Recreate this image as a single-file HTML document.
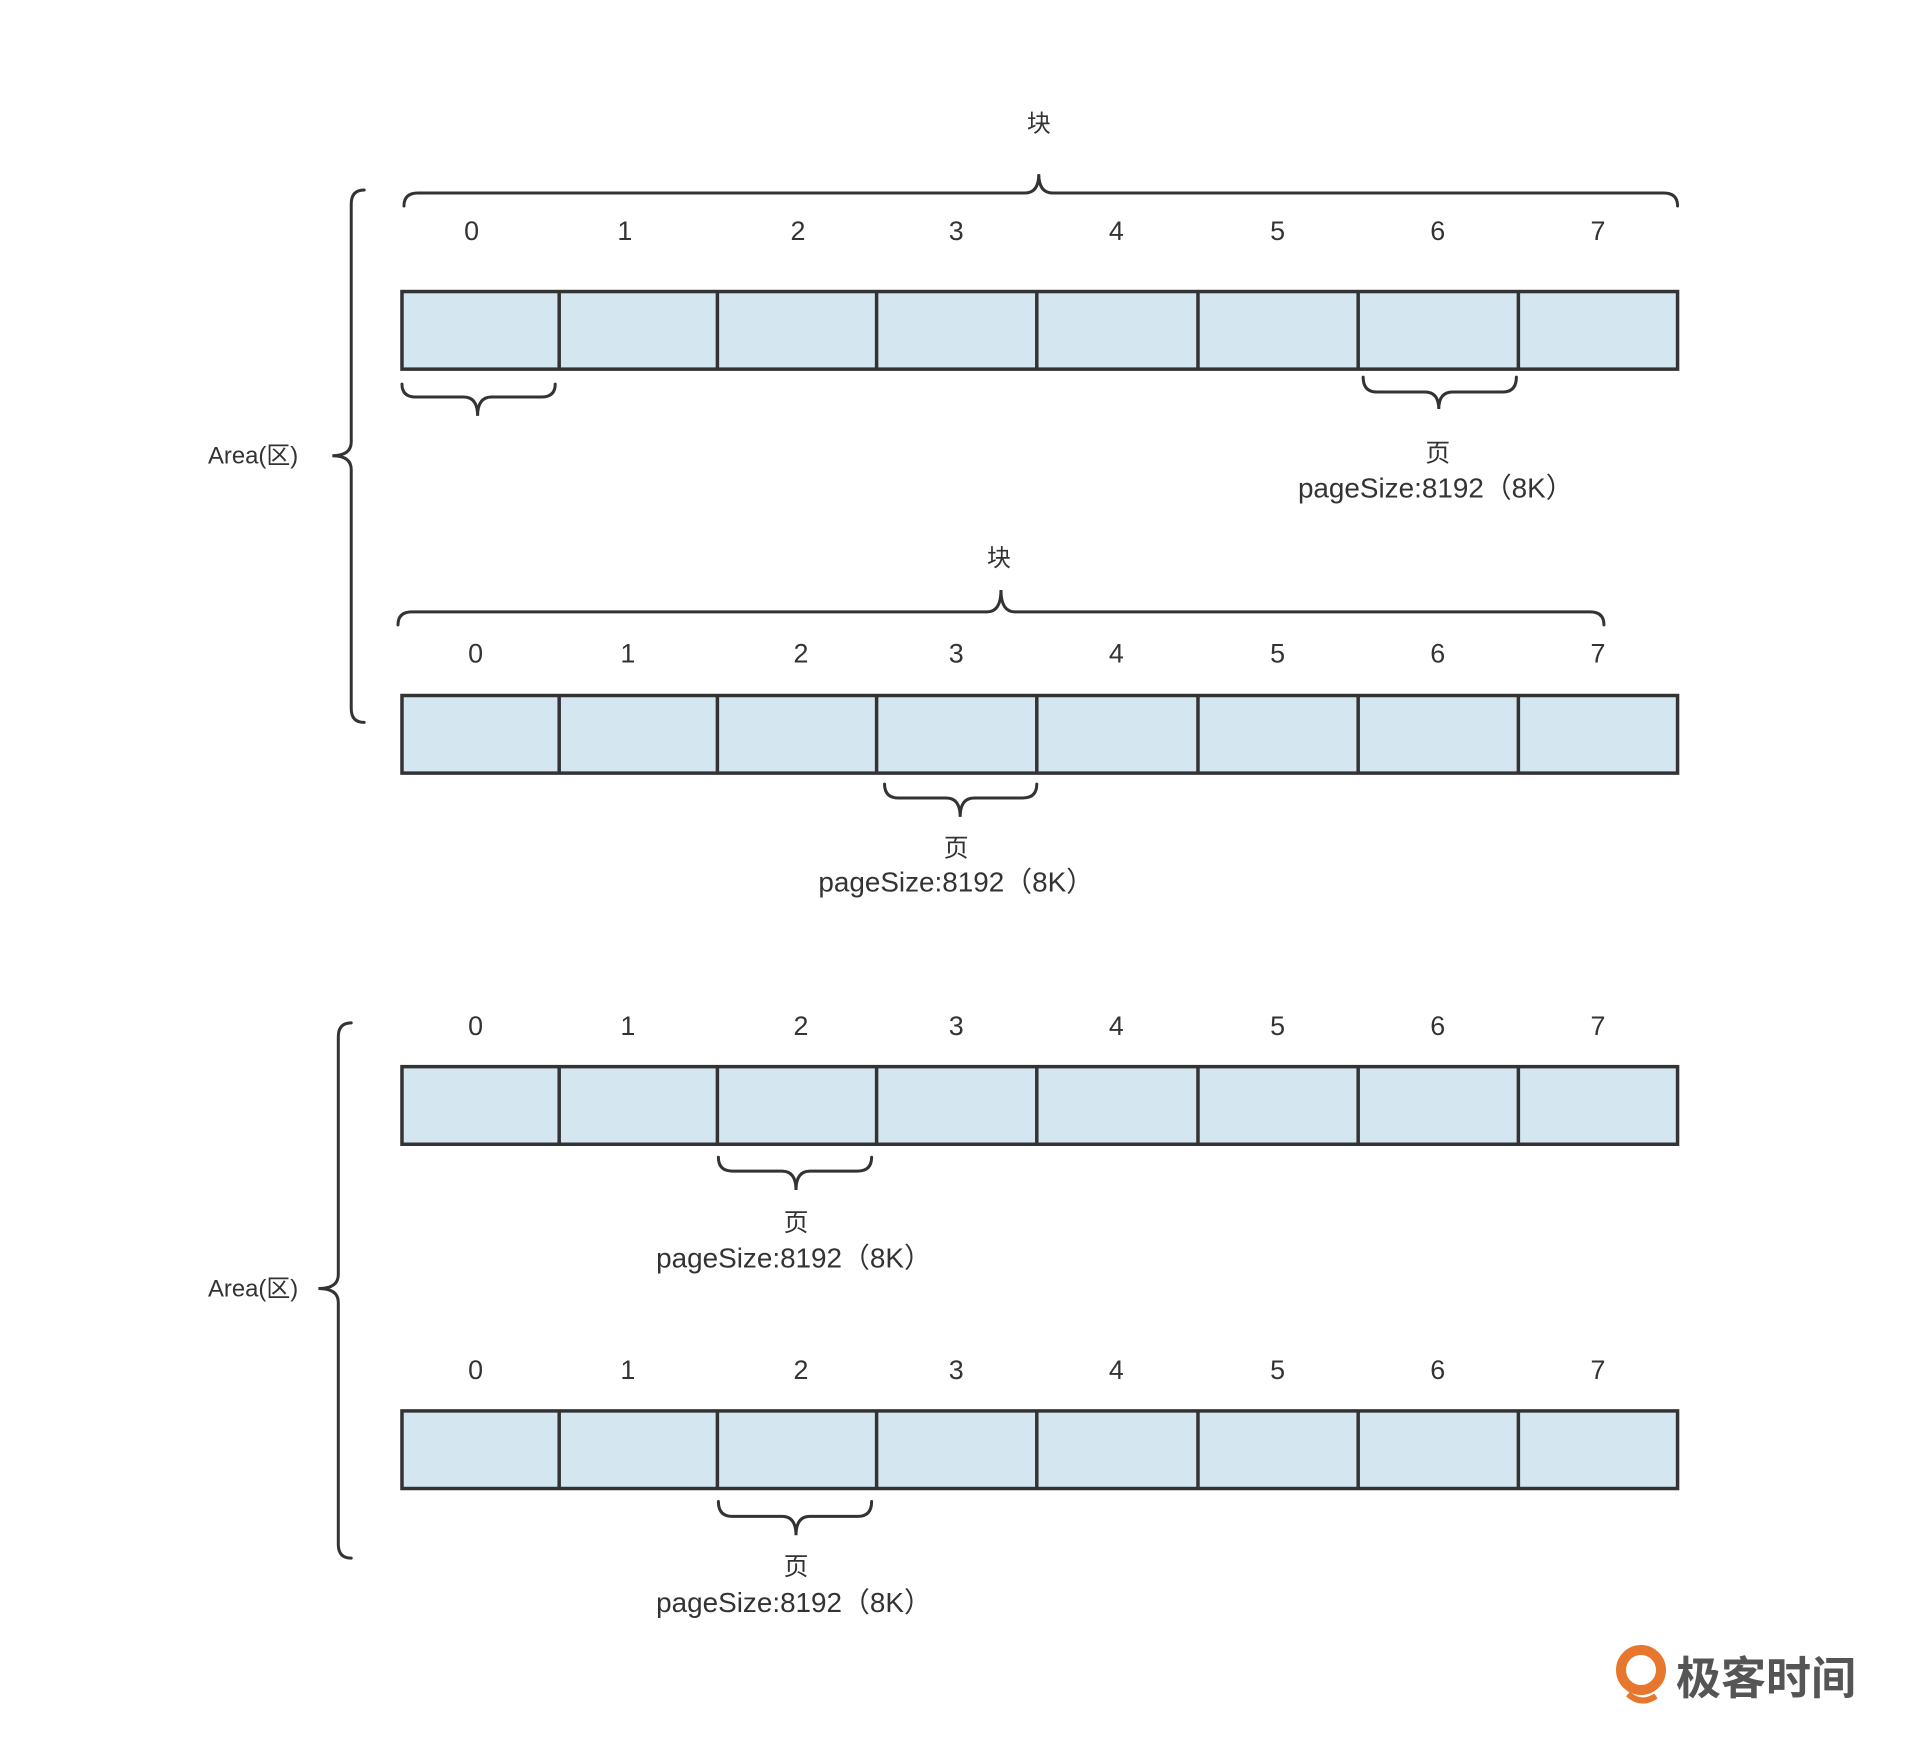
<!DOCTYPE html>
<html><head><meta charset="utf-8"><style>
html,body{margin:0;padding:0;background:#fff;}
svg{display:block}
text{font-family:"Liberation Sans","Noto Sans CJK SC",sans-serif;fill:#333}
</style></head><body>
<svg width="1920" height="1749" viewBox="0 0 1920 1749" xmlns="http://www.w3.org/2000/svg">
<defs>
<g id="bar">
<rect x="404" y="0" width="1282" height="78" fill="#d4e6ef" stroke="#333" stroke-width="3.5"/>
<path d="M562 0V78M721 0V78M881 0V78M1042 0V78M1204 0V78M1365 0V78M1526 0V78" stroke="#333" stroke-width="3.5"/>
</g>
<g id="nums" font-size="27" text-anchor="middle">
<text x="478" y="0">0</text><text x="631" y="0">1</text><text x="805" y="0">2</text><text x="961" y="0">3</text><text x="1122" y="0">4</text><text x="1284" y="0">5</text><text x="1445" y="0">6</text><text x="1606" y="0">7</text>
</g>
<g id="nums1" font-size="27" text-anchor="middle">
<text x="474" y="0">0</text><text x="628" y="0">1</text><text x="802" y="0">2</text><text x="961" y="0">3</text><text x="1122" y="0">4</text><text x="1284" y="0">5</text><text x="1445" y="0">6</text><text x="1606" y="0">7</text>
</g>
</defs>
<g transform="scale(0.995)">
<g fill="none" stroke="#333" stroke-width="3" stroke-linecap="round">
<path d="M406 207 Q406 194 420 194 L1030 194 Q1044 194 1044 175 Q1044 194 1058 194 L1672 194 Q1686 194 1686 207"/>
<path d="M400 628 Q400 615 414 615 L992 615 Q1006 615 1006 593 Q1006 615 1020 615 L1598 615 Q1612 615 1612 628"/>
<path d="M404 386 Q404 399 418 399 L466 399 Q480 399 480 418 Q480 399 494 399 L544 399 Q558 399 558 386"/>
<path d="M1370 379 Q1370 394 1384 394 L1432 394 Q1446 394 1446 411 Q1446 394 1460 394 L1510 394 Q1524 394 1524 379"/>
<path d="M889 788 Q889 802 903 802 L951 802 Q965 802 965 821 Q965 802 979 802 L1028 802 Q1042 802 1042 788"/>
<path d="M722 1163 Q722 1177 736 1177 L786 1177 Q800 1177 800 1196 Q800 1177 814 1177 L862 1177 Q876 1177 876 1163"/>
<path d="M722 1509 Q722 1524 736 1524 L786 1524 Q800 1524 800 1543 Q800 1524 814 1524 L862 1524 Q876 1524 876 1509"/>
<path d="M366 191 Q353 191 353 205 L353 444 Q353 458 334 458 Q353 458 353 472 L353 712 Q353 726 366 726"/>
<path d="M353 1028 Q340 1028 340 1042 L340 1281 Q340 1295 320 1295 Q340 1295 340 1309 L340 1552 Q340 1566 353 1566"/>
</g>
<use href="#bar" y="293"/>
<use href="#bar" y="699"/>
<use href="#bar" y="1072"/>
<use href="#bar" y="1418"/>
<use href="#nums1" y="241"/>
<use href="#nums" y="666"/>
<use href="#nums" y="1040"/>
<use href="#nums" y="1386"/>
<g text-anchor="middle">
<text x="1044" y="132" font-size="24">块</text>
<text x="1004" y="569" font-size="24">块</text>
<text x="1445" y="464" font-size="25">页</text>
<text x="1443" y="500" font-size="28">pageSize:8192（8K）</text>
<text x="961" y="861" font-size="25">页</text>
<text x="961" y="896" font-size="28">pageSize:8192（8K）</text>
<text x="800" y="1237" font-size="25">页</text>
<text x="798" y="1274" font-size="28">pageSize:8192（8K）</text>
<text x="800" y="1583" font-size="25">页</text>
<text x="798" y="1620" font-size="28">pageSize:8192（8K）</text>
</g>
<text x="209" y="466" font-size="24">Area(区)</text>
<text x="209" y="1303" font-size="24">Area(区)</text>
</g>
<circle cx="1641" cy="1670" r="20" fill="none" stroke="#e8772e" stroke-width="10"/>
<path d="M1628 1694 Q1641 1706 1656 1696" fill="none" stroke="#e8772e" stroke-width="6"/>
<text x="1676" y="1694" font-size="45" font-weight="bold" style="fill:#555">极客时间</text>
</svg>
</body></html>
